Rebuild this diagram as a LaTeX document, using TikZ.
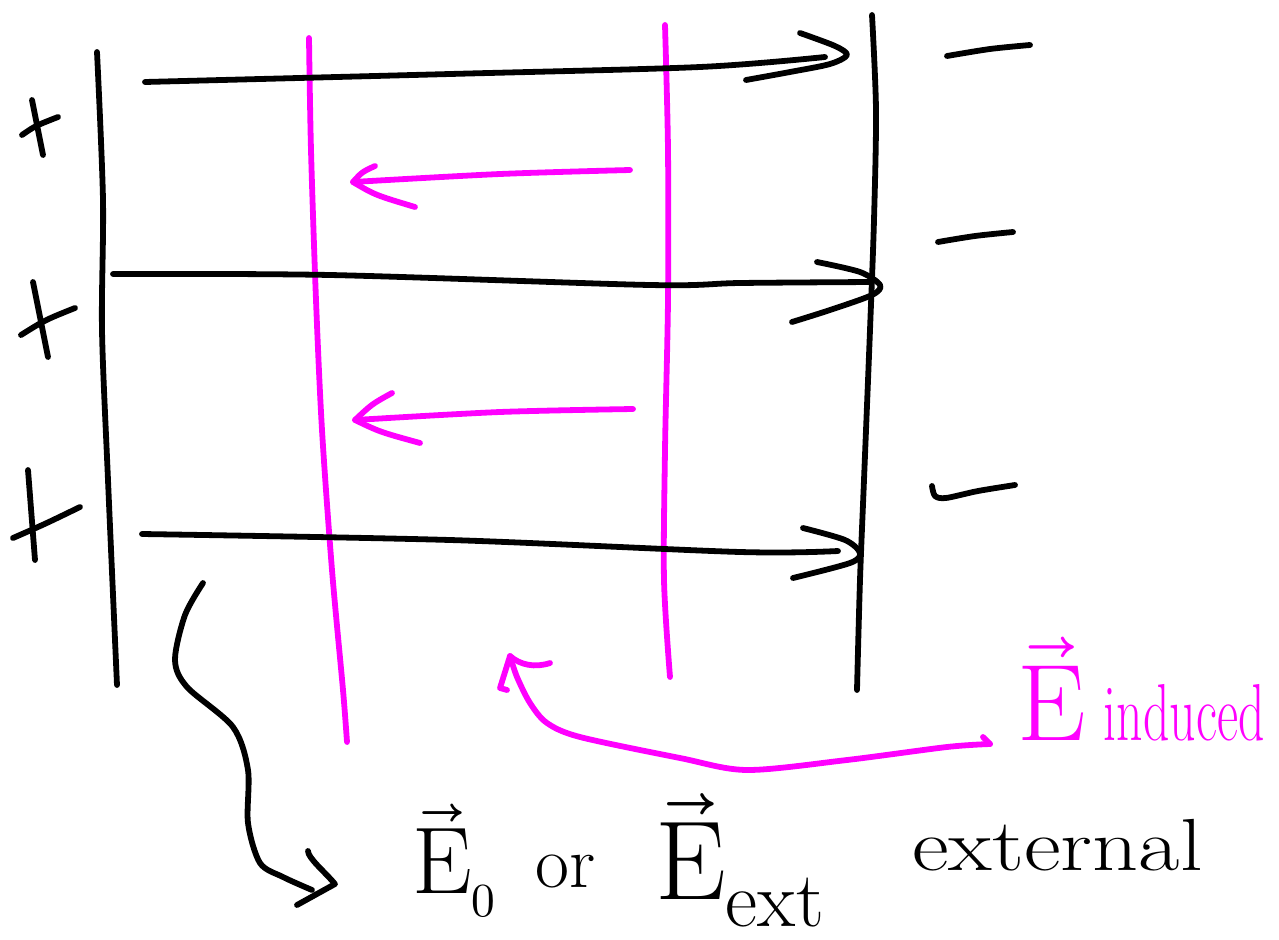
\documentclass[tikz,border=0pt]{standalone}
\usepackage{unicode-math}
\usepackage{graphicx}
\definecolor{pen}{RGB}{255,0,255}
\tikzset{
  ink/.style={line width=3.3pt, line cap=round, line join=round, black},
  mink/.style={ink, draw=pen},
  label/.style={inner sep=0pt, anchor=base west}
}
\begin{document}
\begin{tikzpicture}[x=0.02cm,y=-0.02cm]
\useasboundingbox (0,0) rectangle (1279,940);

% capacitor plates (black) and the dielectric surfaces (magenta)
\draw[ink] plot[smooth] coordinates {(97,52) (103,200) (102,330) (108,480) (117,685)};
\draw[ink] plot[smooth] coordinates {(872,15) (876,110) (874,220) (870,330) (864,480) (860,580) (857,690)};
\draw[mink] plot[smooth] coordinates {(309,38) (311,150) (316,300) (322,430) (332,570) (343,690) (347,742)};
\draw[mink] plot[smooth] coordinates {(665,25) (668,150) (668,300) (665,450) (664,580) (670,677)};

% external field lines
\draw[ink] plot[smooth] coordinates {(145,82) (450,74) (700,67) (825,57)};
\draw[ink] plot[smooth] coordinates {(800,33) (835,46) (847,55) (830,64) (790,72) (746,80)};
\draw[ink] plot[smooth] coordinates {(113,274) (330,275) (650,285) (740,283) (872,282)};
\draw[ink] plot[smooth] coordinates {(817,262) (860,272) (880,285) (872,295) (830,310) (792,322)};
\draw[ink] plot[smooth] coordinates {(142,534) (450,540) (740,552) (838,551)};
\draw[ink] plot[smooth] coordinates {(803,528) (845,540) (860,553) (850,563) (793,578)};

% induced field inside the dielectric
\draw[mink] plot[smooth] coordinates {(630,170) (500,174) (353,182)};
\draw[mink] (375,166) .. controls (362,172) .. (353,182) .. controls (375,195) .. (415,207);
\draw[mink] plot[smooth] coordinates {(633,409) (500,412) (355,420)};
\draw[mink] (392,393) .. controls (372,404) .. (355,420) .. controls (380,432) .. (420,443);

% plus charges
\draw[ink] (32,100) -- (43,155);
\draw[ink] (22,135) .. controls (35,126) .. (58,117);
\draw[ink] (33,282) -- (48,357);
\draw[ink] (21,335) .. controls (45,320) .. (75,308);
\draw[ink] (28,470) -- (35,560);
\draw[ink] (13,538) .. controls (45,524) .. (80,507);

% minus charges
\draw[ink] plot[smooth] coordinates {(947,56) (990,49) (1030,45)};
\draw[ink] plot[smooth] coordinates {(938,242) (975,236) (1013,232)};
\draw[ink] plot[smooth] coordinates {(932,486) (935,496) (946,498) (978,491) (1015,485)};

% labels
\node[label] (e0) at (412,893) {\fontsize{54}{54}\selectfont$\vec{\mathrm{E}}_{\scriptscriptstyle 0}$};
\node[label] (or) at (535,887) {\fontsize{42}{42}\selectfont or};
\node[label] (eext) at (655,899) {\fontsize{64}{64}\selectfont$\vec{\mathrm{E}}_{\mathrm{ext}}$};
\node[label] (ext) at (912,870) {\fontsize{42}{42}\selectfont\scalebox{1.22}[1]{external}};
\node[label, text=pen] (eind) at (1017,740) {\fontsize{62}{62}\selectfont$\vec{\mathrm{E}}$\,{\fontsize{46}{46}\selectfont\scalebox{0.64}[1]{induced}}};

% pointer from the external field lines to its label
\coordinate (pa) at (203,583);
\coordinate (pb) at (312,890);
\draw[ink] plot[smooth] coordinates {(pa) (185,615) (175,660) (187,687) (233,727) (248,770) (248,823) (260,863) (283,877) (pb)};
\draw[ink] (308,851) .. controls (308,858) and (325,872) .. (335,884) -- (297,905);

% pointer from the induced label into the dielectric
\coordinate (qa) at (990,744);
\coordinate (qb) at (510,656);
\draw[mink] plot[smooth] coordinates {(qa) (947,747) (847,760) (747,770) (680,758) (580,737) (547,723) (530,703) (517,677) (qb)};
\draw[mink] (983,737) -- (qa);
\draw[mink] (507,690) -- (500,688) -- (qb) .. controls (520,665) and (535,668) .. (550,663);
\end{tikzpicture}
\end{document}
